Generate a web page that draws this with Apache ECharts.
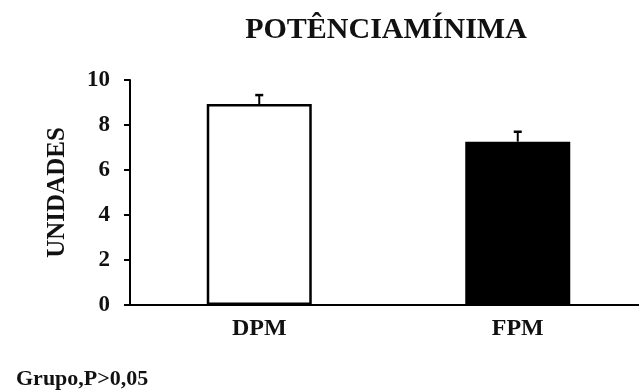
<!DOCTYPE html>
<html><head><meta charset="utf-8">
<script src="https://cdn.jsdelivr.net/npm/echarts@6/dist/echarts.min.js"></script>
<style>html,body{margin:0;padding:0;background:#fff;overflow:hidden}#c{width:650px;height:390px}</style>
</head><body><div id="c"></div>
<script>
const categories = ['DPM', 'FPM'];
const values = [8.93, 7.26];
const errors = [0.4, 0.44];
const barColors = ['#ffffff', '#000000'];
const yTicks = [0, 2, 4, 6, 8, 10];

const chart = echarts.init(document.getElementById('c'));
const font = '"Liberation Serif", "Times New Roman", serif';
chart.setOption({
  animation: false,
  title: [
    { text: 'POTÊNCIAMÍNIMA', left: 381, top: 10, textAlign: 'center',
      textStyle: { fontFamily: font, fontWeight: 'bold', fontSize: 30, color: '#111' } },
    { text: 'Grupo,P>0,05', left: 11, top: 363,
      textStyle: { fontFamily: font, fontWeight: 'bold', fontSize: 22, color: '#111' } }
  ],
  grid: { left: 130, right: 3, top: 80, bottom: 85 },
  xAxis: {
    type: 'category', data: categories,
    axisLine: { lineStyle: { color: '#000', width: 2 } },
    axisTick: { show: false },
    axisLabel: { fontFamily: font, fontWeight: 'bold', fontSize: 24, color: '#111', margin: 12 }
  },
  yAxis: {
    type: 'value', min: 0, max: 10, interval: 2,
    name: 'UNIDADES', nameLocation: 'middle', nameGap: 60, nameRotate: 90,
    nameTextStyle: { fontFamily: font, fontWeight: 'bold', fontSize: 25, color: '#111' },
    axisLine: { show: true, lineStyle: { color: '#000', width: 2 } },
    axisTick: { show: true, length: 6, lineStyle: { color: '#000', width: 2 } },
    axisLabel: { fontFamily: font, fontWeight: 'bold', fontSize: 23, color: '#111', margin: 20,
      formatter: v => yTicks.includes(v) ? String(v) : '' },
    splitLine: { show: false }
  },
  series: [
    {
      type: 'bar', barWidth: 105,
      data: values.map((v, i) => ({ value: v, itemStyle: { color: barColors[i], borderColor: '#000', borderWidth: 2.5 } })),
      z: 2
    },
    {
      type: 'custom', z: 3,
      data: values.map((v, i) => [i, v, v + errors[i]]),
      renderItem: (params, api) => {
        const base = api.coord([api.value(0), api.value(1)]);
        const top = api.coord([api.value(0), api.value(2)]);
        const x = base[0];
        return { type: 'group', children: [
          { type: 'line', shape: { x1: x, y1: base[1], x2: x, y2: top[1] }, style: { stroke: '#000', lineWidth: 2 } },
          { type: 'line', shape: { x1: x - 4, y1: top[1], x2: x + 4, y2: top[1] }, style: { stroke: '#000', lineWidth: 2.5 } }
        ]};
      }
    }
  ]
});
</script></body></html>
